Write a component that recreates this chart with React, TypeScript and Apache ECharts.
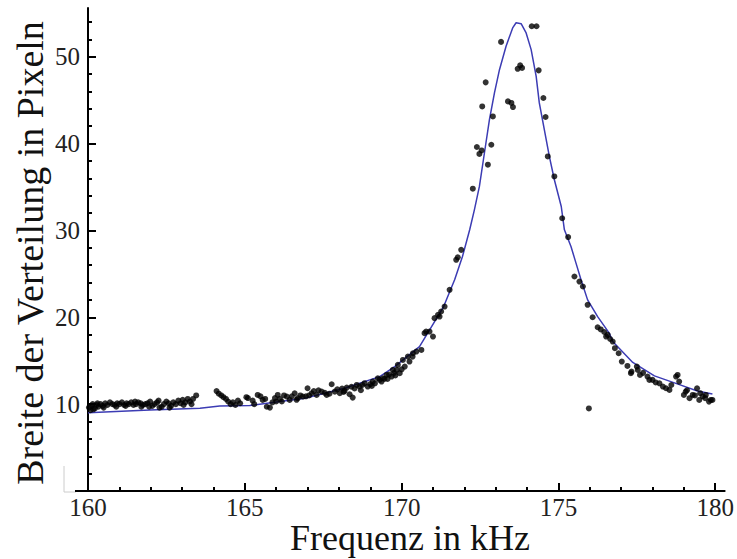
import React, { useEffect, useRef } from "react";
import * as echarts from "echarts";

// Fit curve (Frequenz kHz, Breite px)
const fitFreq = [160.0, 161.97, 163.57, 164.2, 165.16, 166.91, 168.18, 169.3, 169.78, 170.57, 171.34, 171.69, 171.94, 172.17, 172.32, 172.48, 172.64, 172.8, 172.96, 173.12, 173.33, 173.54, 173.65, 173.81, 173.97, 174.13, 174.29, 174.39, 174.55, 174.71, 174.87, 175.09, 175.19, 175.4, 175.56, 175.72, 175.93, 176.25, 176.62, 176.73, 177.37, 178.06, 178.79, 179.43, 179.91];
const fitWidth = [9.0, 9.33, 9.53, 9.79, 9.83, 10.68, 11.83, 13.17, 14.32, 16.62, 21.23, 24.31, 26.99, 30.07, 32.37, 35.06, 38.91, 42.74, 45.82, 48.5, 51.19, 53.31, 53.9, 53.8, 52.73, 50.81, 47.73, 44.67, 41.59, 38.51, 35.83, 32.75, 30.07, 28.15, 26.23, 24.31, 22.0, 20.08, 18.17, 17.2, 14.8, 13.25, 12.33, 11.52, 11.17];

// Measured points [Frequenz kHz, Breite px]
const flatPoints = [
  [160.03, 9.6], [160.08, 9.3], [160.12, 9.8], [160.15, 10.0], [160.17, 9.4], [160.22, 9.5], [160.28, 9.9], [160.3, 10.1], [160.33, 9.7], [160.4, 10.0], [160.47, 9.8], [160.5, 9.6], [160.55, 10.1], [160.62, 9.9], [160.7, 10.2], [160.78, 10.0], [160.85, 9.9], [160.9, 9.7], [160.93, 10.1], [161.0, 10.0], [161.08, 10.2], [161.15, 9.9], [161.2, 9.8], [161.23, 10.1], [161.3, 10.0], [161.38, 10.2], [161.45, 9.9], [161.5, 10.3], [161.53, 10.0], [161.6, 10.2], [161.68, 10.1], [161.7, 9.7], [161.75, 9.9], [161.83, 10.0], [161.9, 10.1], [161.95, 9.7], [161.98, 10.3], [162.05, 9.8], [162.12, 10.0], [162.2, 10.2], [162.25, 10.4], [162.28, 9.6], [162.35, 9.7], [162.42, 10.0], [162.5, 10.3], [162.57, 10.1], [162.6, 9.6], [162.65, 9.8], [162.72, 10.2], [162.8, 10.0], [162.88, 10.4], [162.95, 10.1], [163.02, 10.5], [163.05, 9.9], [163.1, 10.2], [163.18, 10.6], [163.25, 10.3], [163.3, 10.0], [163.35, 10.6], [163.45, 11.0],
  [164.1, 11.5], [164.17, 11.2], [164.25, 11.0], [164.32, 10.8], [164.4, 10.6], [164.47, 10.3], [164.55, 10.0], [164.62, 10.2], [164.7, 9.9], [164.78, 10.4], [164.85, 10.1], [165.05, 10.8]
];
const risePoints = [
  [165.1, 10.7], [165.25, 10.4], [165.3, 10.0], [165.41, 11.06], [165.5, 10.9], [165.57, 10.48], [165.65, 10.6], [165.7, 9.7], [165.8, 9.6], [165.88, 10.2], [165.96, 10.7], [166.0, 10.3], [166.05, 11.06], [166.12, 10.6], [166.18, 10.3], [166.25, 11.0], [166.34, 10.87], [166.43, 10.48], [166.5, 10.9], [166.59, 11.25], [166.65, 10.5], [166.69, 10.68], [166.77, 11.0], [166.85, 10.87], [166.95, 10.9], [167.0, 11.83], [167.05, 11.0], [167.13, 11.25], [167.2, 11.5], [167.29, 11.06], [167.35, 11.6], [167.45, 11.44], [167.55, 11.3], [167.61, 11.06], [167.7, 11.2], [167.77, 12.29], [167.87, 11.44], [167.95, 11.7], [168.03, 11.25], [168.1, 11.8], [168.15, 11.4], [168.18, 11.52], [168.25, 11.9], [168.34, 11.14], [168.4, 12.0], [168.44, 10.75], [168.5, 11.8], [168.57, 12.21], [168.66, 12.02], [168.7, 11.6], [168.75, 12.2], [168.82, 12.41], [168.92, 12.02], [169.0, 12.3], [169.05, 12.1], [169.08, 12.6], [169.15, 12.4], [169.24, 12.98], [169.3, 12.8], [169.36, 12.6], [169.4, 12.98], [169.45, 12.9], [169.52, 13.36], [169.55, 12.9], [169.6, 13.4], [169.68, 13.17], [169.72, 13.94], [169.76, 13.6], [169.8, 13.3], [169.84, 13.94], [169.88, 14.52], [169.94, 13.56], [170.0, 14.0], [170.04, 15.09], [170.1, 14.32], [170.2, 15.47], [170.25, 14.9], [170.35, 15.47], [170.36, 15.86], [170.47, 16.05], [170.63, 16.24], [170.73, 18.17], [170.78, 18.35], [170.89, 18.35], [171.0, 17.78], [171.05, 19.9], [171.16, 20.28], [171.21, 20.08], [171.26, 20.66], [171.37, 21.23], [171.53, 23.16], [171.74, 26.61], [171.79, 26.9], [171.9, 27.76]
];
const peakPoints = [
  [172.27, 34.8], [172.4, 39.6], [172.48, 38.8], [172.55, 39.2], [172.57, 44.27], [172.68, 47.04], [172.75, 37.56], [172.86, 39.86], [172.91, 43.12], [173.17, 51.7], [173.39, 44.85], [173.5, 44.67], [173.55, 44.2], [173.7, 48.6], [173.78, 49.0], [173.84, 48.7], [174.15, 53.5], [174.3, 53.5], [174.37, 48.42], [174.52, 45.24], [174.59, 43.05], [174.66, 38.51], [174.87, 36.21], [175.12, 31.4], [175.31, 29.23]
];
const fallPoints = [
  [175.51, 24.69], [175.67, 24.11], [175.78, 23.54], [175.93, 21.43], [175.97, 9.5], [176.09, 20.0], [176.25, 18.85], [176.35, 18.6], [176.46, 18.3], [176.52, 17.78], [176.57, 17.97], [176.65, 17.5], [176.73, 17.2], [176.8, 16.44], [176.92, 15.86], [177.02, 14.9], [177.2, 14.4], [177.31, 13.56], [177.33, 13.74], [177.5, 14.32], [177.53, 13.94], [177.6, 13.36], [177.7, 13.6], [177.84, 13.17], [177.9, 12.79], [178.0, 12.79], [178.1, 12.5], [178.22, 12.4], [178.33, 12.02], [178.43, 11.83], [178.54, 11.64], [178.6, 12.2], [178.75, 13.17], [178.8, 13.36], [178.85, 12.6], [179.0, 11.06], [179.06, 11.44], [179.1, 11.6], [179.18, 10.68], [179.28, 11.06], [179.35, 11.0], [179.42, 11.83], [179.49, 10.48], [179.52, 11.26], [179.6, 10.9], [179.68, 10.68], [179.7, 11.06], [179.8, 10.29], [179.86, 10.48], [179.91, 10.48]
];

const xTicks = [160, 165, 170, 175, 180];
const yTicks = [10, 20, 30, 40, 50];

export default function App() {
  const ref = useRef<HTMLDivElement>(null);
  useEffect(() => {
    if (!ref.current) return;
    const chart = echarts.init(ref.current, undefined, { renderer: "svg" });
    const serif = "'Liberation Serif', 'Times New Roman', serif";
    const points = [...flatPoints, ...risePoints, ...peakPoints, ...fallPoints];
    chart.setOption({
      animation: false,
      backgroundColor: "#ffffff",
      grid: { left: 88, right: 12, top: 8, bottom: 68 },
      xAxis: {
        type: "value",
        min: 160,
        max: 180.3,
        interval: 5,
        axisLine: { show: true, lineStyle: { color: "#000", width: 2 } },
        axisTick: { show: true, inside: true, length: 8, customValues: xTicks, lineStyle: { color: "#000", width: 2 } },
        minorTick: { show: true, splitNumber: 5, length: 4, lineStyle: { color: "#000", width: 2 } },
        axisLabel: { show: true, customValues: xTicks, margin: 6, lineHeight: 20, color: "#222", fontFamily: serif, fontSize: 25 },
        splitLine: { show: false },
        minorSplitLine: { show: false },
      },
      yAxis: {
        type: "value",
        min: 0,
        max: 55.6,
        interval: 10,
        axisLine: { show: true, lineStyle: { color: "#000", width: 2 } },
        axisTick: { show: true, inside: true, length: 8, customValues: yTicks, lineStyle: { color: "#000", width: 2 } },
        minorTick: { show: true, splitNumber: 5, length: 4, lineStyle: { color: "#000", width: 2 } },
        axisLabel: { show: true, customValues: yTicks, margin: 8, lineHeight: 20, color: "#222", fontFamily: serif, fontSize: 25 },
        splitLine: { show: false },
        minorSplitLine: { show: false },
      },
      graphic: [
        { type: "line", shape: { x1: 64, y1: 466, x2: 64, y2: 492 }, style: { stroke: "#cccccc", lineWidth: 1 } },
        { type: "line", shape: { x1: 64, y1: 492, x2: 76, y2: 492 }, style: { stroke: "#cccccc", lineWidth: 1 } },
        { type: "line", shape: { x1: 75, y1: 491, x2: 89, y2: 491 }, style: { stroke: "#000", lineWidth: 2 } },
        {
          type: "text",
          x: 410,
          y: 538,
          style: { text: "Frequenz in kHz", font: `36px ${serif}`, lineHeight: 30, fill: "#111", align: "center", verticalAlign: "middle" },
        },
        {
          type: "text",
          x: 30,
          y: 253,
          rotation: Math.PI / 2,
          style: { text: "Breite der Verteilung in Pixeln", font: `38px ${serif}`, lineHeight: 30, fill: "#111", align: "center", verticalAlign: "middle" },
        },
      ],
      series: [
        {
          type: "line",
          data: fitFreq.map((f, i) => [f, fitWidth[i]]),
          showSymbol: false,
          smooth: false,
          lineStyle: { color: "#3c3cb4", width: 1.5 },
          z: 2,
        },
        {
          type: "scatter",
          data: points,
          symbol: "circle",
          symbolSize: 6,
          itemStyle: { color: "#000" },
          z: 3,
        },
      ],
    });
    return () => chart.dispose();
  }, []);
  return <div ref={ref} style={{ width: 737, height: 559, position: "absolute", left: 0, top: 0 }} />;
}
